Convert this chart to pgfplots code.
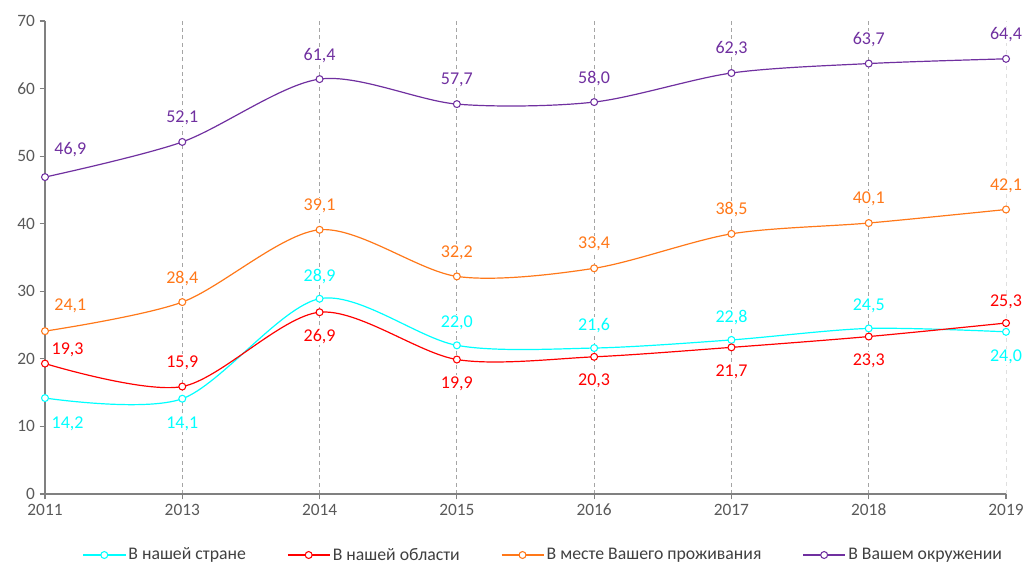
\documentclass[border=0pt]{standalone}
\usepackage{pgfplots}
\usepackage{pgfplotstable}
\pgfplotsset{compat=1.18}
\usepackage{fontspec}
\setmainfont{Carlito}
\definecolor{cCyan}{RGB}{0,255,255}
\definecolor{cRed}{RGB}{255,0,0}
\definecolor{cOrange}{RGB}{255,120,25}
\definecolor{cPurple}{RGB}{112,48,160}
\definecolor{axgray}{RGB}{128,128,128}
\definecolor{txgray}{RGB}{89,89,89}
\definecolor{lggray}{RGB}{64,64,64}
\definecolor{grgray}{RGB}{165,165,165}

\pgfplotstableread{
x y lab dx dy
0 14.2 {14,2} 17 -19
1 14.1 {14,1} 0 -19
2 28.9 {28,9} 0 17
3 22.0 {22,0} 0 17
4 21.6 {21,6} 0 17
5 22.8 {22,8} 0 17
6 24.5 {24,5} 0 17
7 24.0 {24,0} 0 -19
}\tCyan
\pgfplotstableread{
x y lab dx dy
0 19.3 {19,3} 17 10
1 15.9 {15,9} 0 18
2 26.9 {26,9} 0 -18
3 19.9 {19,9} 0 -18
4 20.3 {20,3} 0 -18
5 21.7 {21,7} 0 -18
6 23.3 {23,3} 0 -18
7 25.3 {25,3} 0 16
}\tRed
\pgfplotstableread{
x y lab dx dy
0 24.1 {24,1} 19 19
1 28.4 {28,4} 0 18
2 39.1 {39,1} 0 18
3 32.2 {32,2} 0 18
4 33.4 {33,4} 0 18
5 38.5 {38,5} 0 18
6 40.1 {40,1} 0 18
7 42.1 {42,1} 0 18
}\tOrange
\pgfplotstableread{
x y lab dx dy
0 46.9 {46,9} 19 21
1 52.1 {52,1} 0 18
2 61.4 {61,4} 0 18
3 57.7 {57,7} 0 18
4 58.0 {58,0} 0 18
5 62.3 {62,3} 0 18
6 63.7 {63,7} 0 18
7 64.4 {64,4} 0 18
}\tPurple

\pgfplotsset{
  lbl/.style={
    smooth, line width=0.9pt, color=#1,
    mark=*, mark size=2.6pt, mark options={solid, fill=white, draw=#1, line width=0.8pt},
    nodes near coords, point meta=explicit symbolic,
    visualization depends on={\thisrow{dx} \as \ldx},
    visualization depends on={\thisrow{dy} \as \ldy},
    every node near coord/.append style={anchor=center, xshift=\ldx pt, yshift=\ldy pt,
      fill=white, inner sep=0.8pt, text=#1, font=\fontsize{13.5}{15}\selectfont},
  }
}

\begin{document}
\begin{tikzpicture}
\begin{axis}[
  name=ax,
  scale only axis,
  width=720.75pt, height=354.75pt,
  xmin=0, xmax=7, ymin=0, ymax=70,
  axis x line*=bottom, axis y line*=left,
  axis line style={axgray, line width=0.9pt},
  xtick={0,1,2,3,4,5,6},
  xticklabels={2011,2013,2014,2015,2016,2017,2018},
  extra x ticks={7},
  extra x tick labels={2019},
  extra x tick style={grid style={dashed, gray!25, line width=0.7pt}},
  ytick={0,10,...,70},
  tick align=outside,
  major tick length=4pt,
  tick style={axgray, line width=0.8pt},
  xmajorgrids,
  grid style={grgray, dash pattern=on 3pt off 2.5pt, line width=0.7pt},
  ticklabel style={font=\fontsize{13}{15}\selectfont, text=txgray},
  /pgf/number format/assume math mode=true,
  clip=false,
  legend columns=4,
  legend style={draw=none, fill=none, at={(0.519,-0.129)}, anchor=center,
    font=\fontsize{13.3}{15}\selectfont, text=lggray,
    /tikz/every even column/.append style={column sep=29pt}},
  legend image code/.code={
    \draw[mark repeat=2,mark phase=2] plot coordinates {(0cm,0cm) (0.55cm,0cm) (1.1cm,0cm)};
  },
]
\addplot[lbl=cCyan] table[x=x, y=y, meta=lab] {\tCyan};
\addlegendentry{В нашей стране}
\addplot[lbl=cRed] table[x=x, y=y, meta=lab] {\tRed};
\addlegendentry{В нашей области}
\addplot[lbl=cOrange] table[x=x, y=y, meta=lab] {\tOrange};
\addlegendentry{В месте Вашего проживания}
\addplot[lbl=cPurple] table[x=x, y=y, meta=lab] {\tPurple};
\addlegendentry{В Вашем окружении}
\end{axis}
\pgfresetboundingbox
\path[use as bounding box] ([xshift=-33.75pt, yshift=-51.75pt]ax.south west) rectangle ([xshift=14.25pt, yshift=15.75pt]ax.north east);
\end{tikzpicture}
\end{document}
